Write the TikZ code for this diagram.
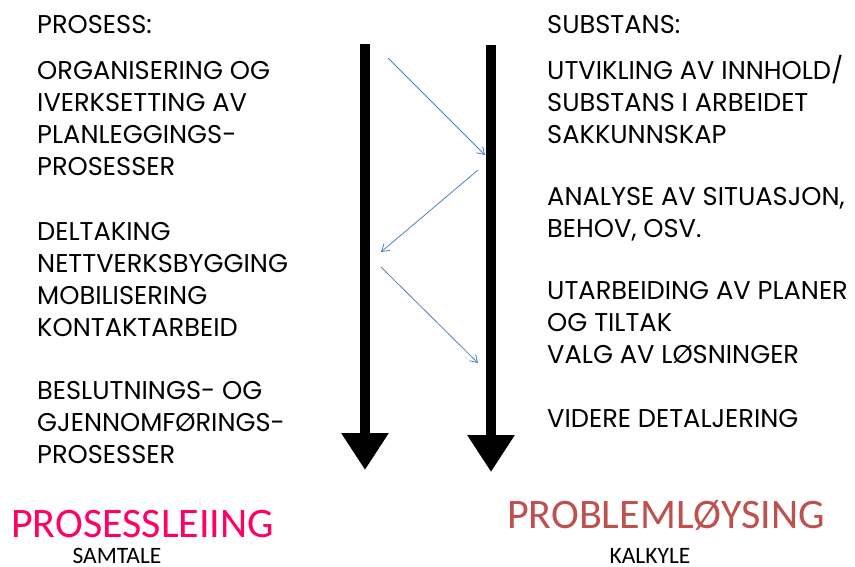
\documentclass[tikz,border=0pt]{standalone}
\usepackage{fontspec}
\setmainfont{Poppins}
\newfontfamily\titlefont{Carlito}
\usetikzlibrary{arrows.meta, positioning}
\definecolor{leiingpink}{HTML}{FF0066}
\definecolor{loysingred}{HTML}{C0504D}
\definecolor{flowblue}{HTML}{4F81BD}

\begin{document}
\begin{tikzpicture}[x=1pt, y=-1pt]
    % settings for this picture
    \tikzset{
      listtext/.style={anchor=base west, inner sep=0pt, align=left,
        font=\fontsize{25.7}{31.8}\selectfont},
      bigtitle/.style={anchor=base west, inner sep=0pt, font=\titlefont\fontsize{42}{42}\selectfont},
      smalltitle/.style={anchor=base, inner sep=0pt, text depth=0pt, font=\titlefont\fontsize{23.5}{23.5}\selectfont},
      mainflow/.style={line width=10pt, -{Triangle[width=45pt, length=37pt]}},
      crossflow/.style={flowblue, line width=0.8pt, -{Straight Barb[length=7pt, width=9pt]}},
    }
    \useasboundingbox (0,0) rectangle (855,566);

    % left column (anchored at the last line)
    \node[listtext] (prosess) at (37,33) {PROSESS:};
    \node[listtext] (organisering) at (37,175) {ORGANISERING OG\\IVERKSETTING AV\\PLANLEGGINGS-\\PROSESSER};
    \node[listtext] (deltaking) at (37,336) {DELTAKING\\NETTVERKSBYGGING\\MOBILISERING\\KONTAKTARBEID};
    \node[listtext] (beslutning) at (37,463) {BESLUTNINGS- OG\\GJENNOMFØRINGS-\\PROSESSER};

    % right column
    \node[listtext] (substans) at (547,33) {SUBSTANS:};
    \node[listtext] (utvikling) at (547,143) {UTVIKLING AV INNHOLD/\\SUBSTANS I ARBEIDET\\SAKKUNNSKAP};
    \node[listtext] (analyse) at (547,237) {ANALYSE AV SITUASJON,\\BEHOV, OSV.};
    \node[listtext] (utarbeiding) at (547,363) {UTARBEIDING AV PLANER\\OG TILTAK\\VALG AV LØSNINGER};
    \node[listtext] (videre) at (547,427) {VIDERE DETALJERING};

    % titles
    \node[bigtitle, text=leiingpink] (leiing) at (11,537) {PROSESSLEIING};
    \node[smalltitle] (samtale) at (117,563) {SAMTALE};
    \node[bigtitle, text=loysingred] (loysing) at (507,528) {PROBLEMLØYSING};
    \node[smalltitle] (kalkyle) at (650,563) {KALKYLE};

    % main arrows
    \coordinate (ltop) at (365,44);
    \coordinate (lend) at (365,470);
    \coordinate (rtop) at (491,45);
    \coordinate (rend) at (491,472);
    \draw[mainflow] (ltop) -- (lend);
    \draw[mainflow] (rtop) -- (rend);

    % zigzag between the columns
    \coordinate (z1) at (388,58);
    \coordinate (z2) at (485,155);
    \coordinate (z3) at (478,170);
    \coordinate (z4) at (381,252);
    \coordinate (z5) at (381,267);
    \coordinate (z6) at (478,363);
    \draw[crossflow] (z1) -- (z2);
    \draw[crossflow] (z3) -- (z4);
    \draw[crossflow] (z5) -- (z6);

  \end{tikzpicture}
\end{document}
